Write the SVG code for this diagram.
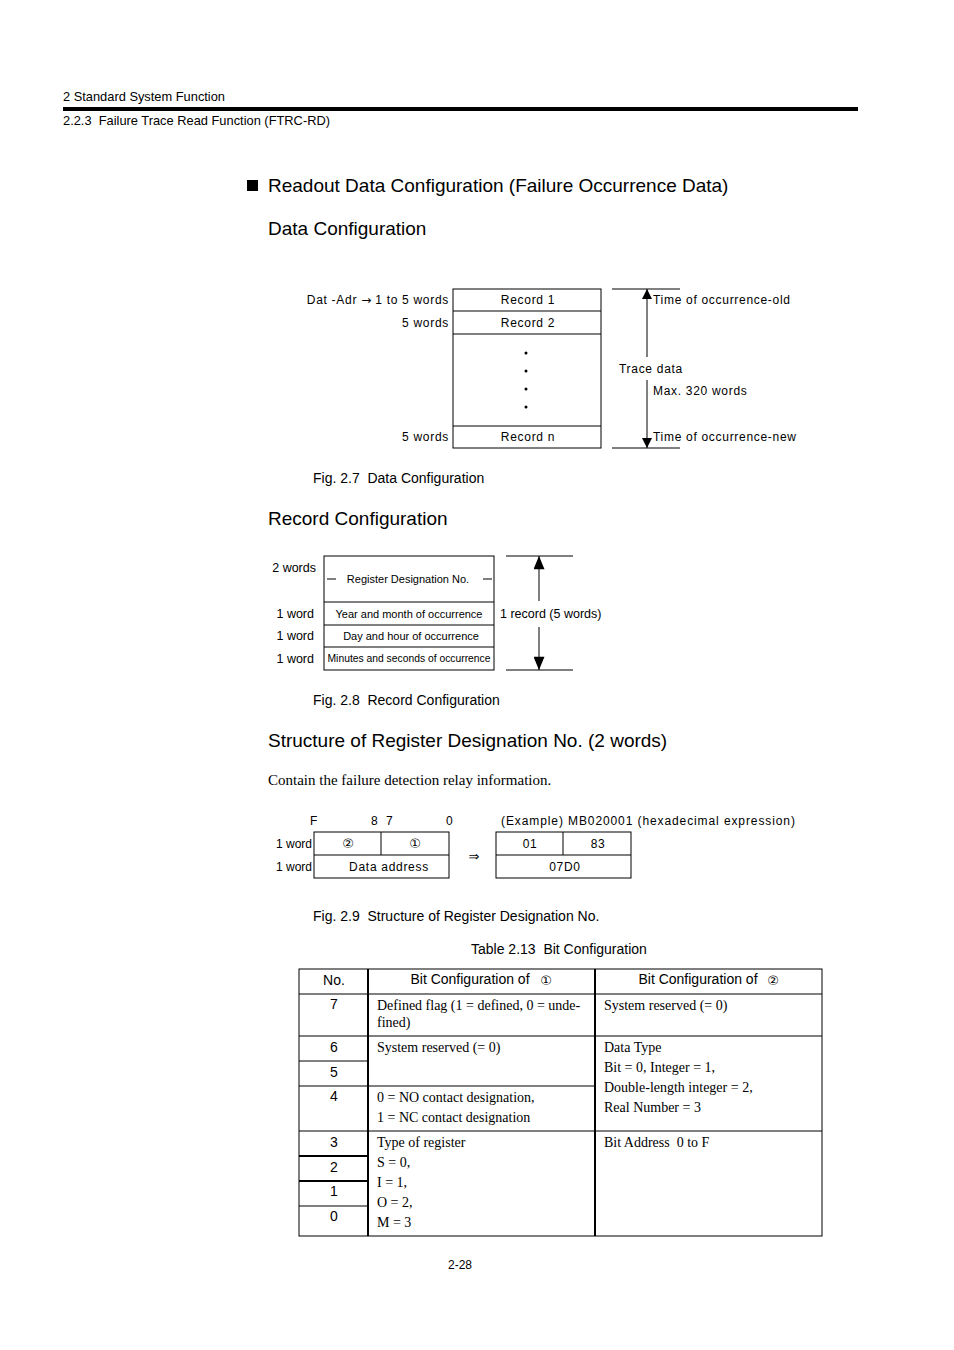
<svg xmlns="http://www.w3.org/2000/svg" width="954" height="1350" viewBox="0 0 954 1350">
<style>
text{white-space:pre}
.s{font-family:"Liberation Sans",Arial,sans-serif;fill:#000}
.sr{font-family:"Liberation Serif","Times New Roman",serif;fill:#000}
.cn{font-family:"DejaVu Sans","Noto Sans CJK JP",sans-serif;fill:#000;font-size:13px}
.h{font-size:19px}
.d{font-size:12px;letter-spacing:0.7px}
.c{font-size:14px}
.ln{stroke:#000;stroke-width:1;fill:none}
.bx{stroke:#000;stroke-width:1;fill:#fff}
.tk{stroke:#000;stroke-width:2;fill:none}
.m{text-anchor:middle}
.e{text-anchor:end}
</style>
<defs>
<marker id="ah" viewBox="0 0 10 10" refX="10" refY="5" markerWidth="10" markerHeight="10" markerUnits="userSpaceOnUse" orient="auto">
<path d="M0,0 L10,5 L0,10 Z" fill="#000"/>
</marker>
<marker id="ah2" viewBox="0 0 12 10" refX="12" refY="5" markerWidth="14" markerHeight="11" markerUnits="userSpaceOnUse" orient="auto">
<path d="M0,0 L12,5 L0,10 Z" fill="#000"/>
</marker>
</defs>

<g id="header">
<text class="s" x="63" y="101" font-size="13" textLength="162" lengthAdjust="spacingAndGlyphs">2 Standard System Function</text>
<rect x="63" y="107" width="795" height="4" fill="#000"/>
<text class="s" x="63" y="125" font-size="13" textLength="267" lengthAdjust="spacingAndGlyphs">2.2.3  Failure Trace Read Function (FTRC-RD)</text>
</g>

<g id="titles">
<rect x="247" y="180" width="11" height="11" fill="#000"/>
<text class="s h" x="268" y="192">Readout Data Configuration (Failure Occurrence Data)</text>
<text class="s h" x="268" y="235">Data Configuration</text>
</g>

<g id="fig27">
<g id="records">
<rect class="bx" x="453" y="289" width="148" height="159"/>
<line class="ln" x1="453" y1="311" x2="601" y2="311"/>
<line class="ln" x1="453" y1="334" x2="601" y2="334"/>
<line class="ln" x1="453" y1="426" x2="601" y2="426"/>
<text class="s d m" x="528" y="304">Record 1</text>
<text class="s d m" x="528" y="327">Record 2</text>
<text class="s d m" x="528" y="441">Record n</text>
<circle cx="526" cy="353" r="1.5" fill="#000"/>
<circle cx="526" cy="371" r="1.5" fill="#000"/>
<circle cx="526" cy="389" r="1.5" fill="#000"/>
<circle cx="526" cy="407" r="1.5" fill="#000"/>
</g>
<g id="leftlabels">
<text class="s d e" x="449" y="304">Dat -Adr <tspan font-family="DejaVu Sans" font-size="12" style="letter-spacing:0">→</tspan> 1 to 5 words</text>
<text class="s d e" x="449" y="327">5 words</text>
<text class="s d e" x="449" y="441">5 words</text>
</g>
<g id="tracebracket">
<line class="ln" x1="612" y1="289" x2="680" y2="289"/>
<line class="ln" x1="612" y1="448" x2="680" y2="448"/>
<text class="s d" x="653" y="304">Time of occurrence-old</text>
<text class="s d" x="619" y="373">Trace data</text>
<text class="s d" x="653" y="395">Max. 320 words</text>
<text class="s d" x="653" y="441">Time of occurrence-new</text>
</g>
<text class="s c" x="313" y="483">Fig. 2.7  Data Configuration</text>
</g>

<text class="s h" x="268" y="525">Record Configuration</text>

<g id="fig28">
<g id="recbox">
<rect class="bx" x="324" y="556" width="170" height="114"/>
<line class="ln" x1="324" y1="602" x2="494" y2="602"/>
<line class="ln" x1="324" y1="625" x2="494" y2="625"/>
<line class="ln" x1="324" y1="647" x2="494" y2="647"/>
<line class="ln" x1="327" y1="579" x2="336" y2="579"/>
<line class="ln" x1="483" y1="579" x2="492" y2="579"/>
<text class="s m" x="408" y="583" font-size="11">Register Designation No.</text>
<text class="s m" x="409" y="618" font-size="11">Year and month of occurrence</text>
<text class="s m" x="411" y="640" font-size="11">Day and hour of occurrence</text>
<text class="s m" x="409" y="662" font-size="10" textLength="163" lengthAdjust="spacingAndGlyphs">Minutes and seconds of occurrence</text>
</g>
<g id="reclabels">
<text class="s e" x="316" y="572" font-size="12.5">2 words</text>
<text class="s e" x="314" y="618" font-size="12.5">1 word</text>
<text class="s e" x="314" y="640" font-size="12.5">1 word</text>
<text class="s e" x="314" y="663" font-size="12.5">1 word</text>
</g>
<g id="recbracket">
<line class="ln" x1="506" y1="556" x2="573" y2="556"/>
<line class="ln" x1="506" y1="670" x2="573" y2="670"/>
<text class="s" x="500" y="618" font-size="12.5">1 record (5 words)</text>
</g>
<text class="s c" x="313" y="705">Fig. 2.8  Record Configuration</text>
</g>

<g id="connectors">
<line class="ln" x1="647" y1="357" x2="647" y2="289" marker-end="url(#ah)"/>
<line class="ln" x1="647" y1="380" x2="647" y2="448" marker-end="url(#ah)"/>
<line class="ln" x1="539" y1="601" x2="539" y2="556" marker-end="url(#ah2)"/>
<line class="ln" x1="539" y1="627" x2="539" y2="670" marker-end="url(#ah2)"/>
</g>

<text class="s h" x="268" y="747">Structure of Register Designation No. (2 words)</text>
<text class="sr" x="268" y="785" font-size="15">Contain the failure detection relay information.</text>

<g id="fig29">
<g id="regbox">
<text class="s" x="310" y="825" font-size="12">F</text>
<text class="s" x="371" y="825" font-size="12">8</text>
<text class="s" x="386" y="825" font-size="12">7</text>
<text class="s" x="446" y="825" font-size="12">0</text>
<rect class="bx" x="314" y="832" width="135" height="46"/>
<line class="ln" x1="314" y1="855" x2="449" y2="855"/>
<line class="ln" x1="381" y1="832" x2="381" y2="855"/>
<text class="cn m" x="348" y="848">②</text>
<text class="cn m" x="415" y="848">①</text>
<text class="s d m" x="389" y="871">Data address</text>
<text class="s e" x="312" y="848" font-size="12">1 word</text>
<text class="s e" x="312" y="871" font-size="12">1 word</text>
</g>
<text class="cn m" x="474" y="861">⇒</text>
<g id="exbox">
<text class="s d" x="501" y="825" style="letter-spacing:0.9px">(Example) MB020001 (hexadecimal expression)</text>
<rect class="bx" x="496" y="832" width="135" height="46"/>
<line class="ln" x1="496" y1="855" x2="631" y2="855"/>
<line class="ln" x1="563" y1="832" x2="563" y2="855"/>
<text class="s d m" x="530" y="848">01</text>
<text class="s d m" x="598" y="848">83</text>
<text class="s d m" x="565" y="871">07D0</text>
</g>
<text class="s c" x="313" y="921">Fig. 2.9  Structure of Register Designation No.</text>
</g>

<g id="table213">
<text class="s c" x="471" y="954">Table 2.13  Bit Configuration</text>
<rect x="299" y="969" width="523" height="267" fill="#fff" stroke="#000" stroke-width="1"/>
<line class="tk" x1="368" y1="969" x2="368" y2="1236"/>
<line class="tk" x1="595" y1="969" x2="595" y2="1236"/>
<line class="ln" x1="299" y1="994" x2="822" y2="994"/>
<line class="ln" x1="299" y1="1036" x2="822" y2="1036"/>
<line class="ln" x1="299" y1="1061" x2="368" y2="1061"/>
<line class="ln" x1="299" y1="1086" x2="595" y2="1086"/>
<line class="ln" x1="299" y1="1131" x2="822" y2="1131"/>
<line class="tk" x1="299" y1="1156" x2="368" y2="1156"/>
<line class="tk" x1="299" y1="1181" x2="368" y2="1181"/>
<line class="ln" x1="299" y1="1206" x2="368" y2="1206"/>
<text class="s m" x="334" y="985" font-size="14">No.</text>
<text class="s m" x="470" y="984" font-size="14">Bit Configuration of</text>
<text class="cn m" x="546" y="985">①</text>
<text class="s m" x="698" y="984" font-size="14">Bit Configuration of</text>
<text class="cn m" x="773" y="985">②</text>
<g class="s m" font-size="14">
<text x="334" y="1009">7</text>
<text x="334" y="1052">6</text>
<text x="334" y="1077">5</text>
<text x="334" y="1101">4</text>
<text x="334" y="1147">3</text>
<text x="334" y="1172">2</text>
<text x="334" y="1196">1</text>
<text x="334" y="1221">0</text>
</g>
<g class="sr" font-size="14">
<text x="377" y="1010">Defined flag (1 = defined, 0 = unde-</text>
<text x="377" y="1027">fined)</text>
<text x="377" y="1052">System reserved (= 0)</text>
<text x="377" y="1102">0 = NO contact designation,</text>
<text x="377" y="1122">1 = NC contact designation</text>
<text x="377" y="1147">Type of register</text>
<text x="377" y="1167">S = 0,</text>
<text x="377" y="1187">I = 1,</text>
<text x="377" y="1207">O = 2,</text>
<text x="377" y="1227">M = 3</text>
<text x="604" y="1010">System reserved (= 0)</text>
<text x="604" y="1052">Data Type</text>
<text x="604" y="1072">Bit = 0, Integer = 1,</text>
<text x="604" y="1092">Double-length integer = 2,</text>
<text x="604" y="1112">Real Number = 3</text>
<text x="604" y="1147">Bit Address  0 to F</text>
</g>
</g>

<text class="s" x="448" y="1269" font-size="12">2-28</text>
</svg>
